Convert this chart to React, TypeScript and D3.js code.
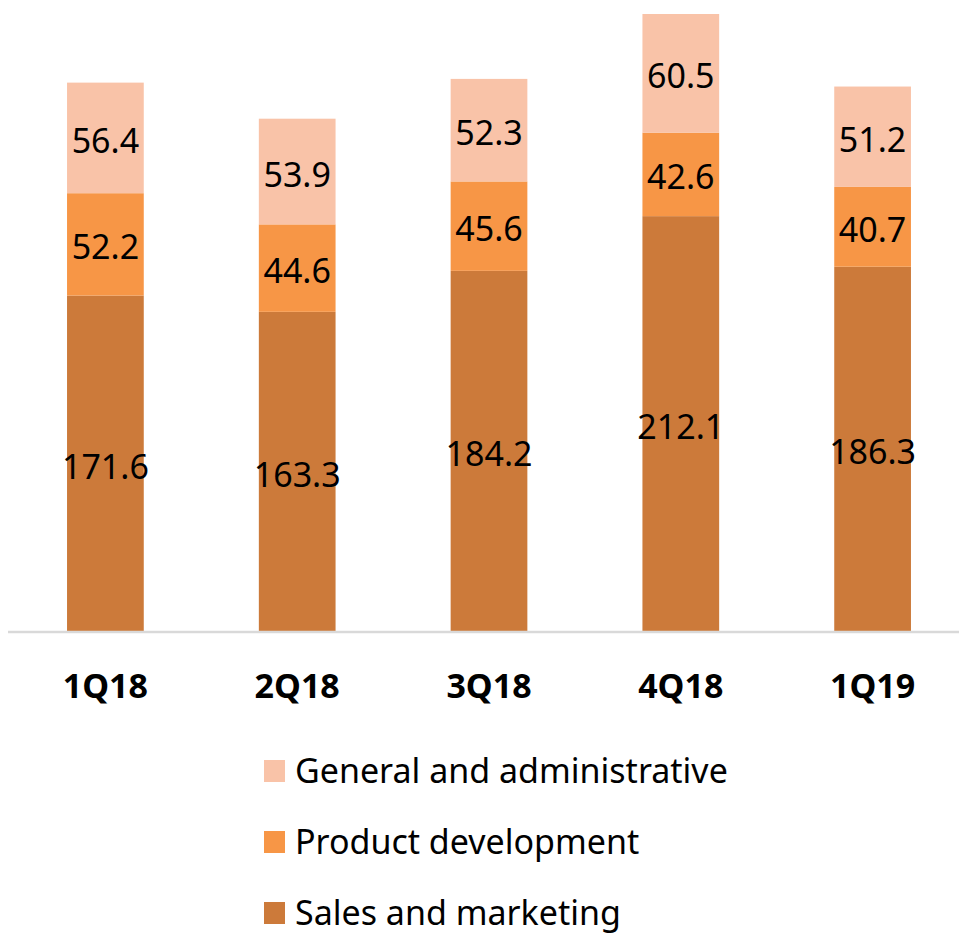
import React from "react";
import * as d3 from "d3";

const categories = ["1Q18", "2Q18", "3Q18", "4Q18", "1Q19"];
const salesMarketing = [171.6, 163.3, 184.2, 212.1, 186.3];
const productDevelopment = [52.2, 44.6, 45.6, 42.6, 40.7];
const generalAdmin = [56.4, 53.9, 52.3, 60.5, 51.2];
const seriesNames = ["Sales and marketing", "Product development", "General and administrative"];
const seriesColors = ["#cc7a3a", "#f79646", "#f9c3a8"];

const W = 959;
const H = 935;
const FONT = "'Noto Sans', 'Open Sans', sans-serif";

export default function App() {
  const rows = categories.map((c, i) => ({
    cat: c,
    s0: salesMarketing[i],
    s1: productDevelopment[i],
    s2: generalAdmin[i],
  }));
  const stack = d3.stack<any>().keys(["s0", "s1", "s2"])(rows);
  const maxTotal = d3.max(rows, (r) => r.s0 + r.s1 + r.s2) as number;

  const x = d3.scaleBand<string>().domain(categories).range([9.5, 968.5]).paddingInner(0.6).paddingOuter(0.3);
  const y = d3.scaleLinear().domain([0, maxTotal]).range([632, 14]);

  const legendOrder = [2, 1, 0];

  return (
    <svg width={W} height={H} style={{ position: "absolute", left: 0, top: 0 }} fontFamily={FONT}>
      <rect x={0} y={0} width={W} height={H} fill="#fff" />
      {stack.map((layer, li) => (
        <g key={li}>
          {layer.map((d, i) => {
            const x0 = x(categories[i]) as number;
            const yt = y(d[1]);
            const yb = y(d[0]);
            const val = d[1] - d[0];
            return (
              <g key={i}>
                <rect x={x0} y={yt} width={x.bandwidth()} height={yb - yt} fill={seriesColors[li]} />
                <text
                  x={x0 + x.bandwidth() / 2}
                  y={(yt + yb) / 2 + 2}
                  textAnchor="middle"
                  dominantBaseline="central"
                  fontSize={34}
                  fill="#000"
                >
                  {val.toFixed(1)}
                </text>
              </g>
            );
          })}
        </g>
      ))}
      <line x1={8} x2={W} y1={632} y2={632} stroke="#d9d9d9" strokeWidth={2.5} />
      {categories.map((c) => (
        <text
          key={c}
          x={(x(c) as number) + x.bandwidth() / 2}
          y={698}
          textAnchor="middle"
          fontSize={34}
          fontWeight="bold"
          fill="#000"
        >
          {c}
        </text>
      ))}
      {legendOrder.map((si, k) => {
        const by = 783 + k * 71;
        return (
          <g key={si}>
            <rect x={264} y={by - 23} width={21} height={22} fill={seriesColors[si]} />
            <text x={295} y={by} fontSize={34} fill="#000">
              {seriesNames[si]}
            </text>
          </g>
        );
      })}
    </svg>
  );
}
